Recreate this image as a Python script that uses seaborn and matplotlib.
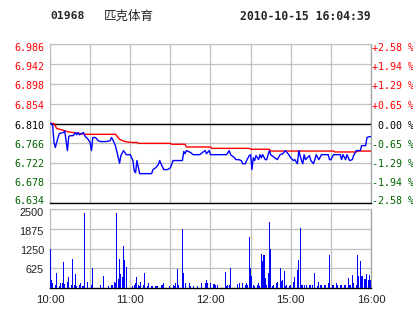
import matplotlib
matplotlib.use('Agg')
import matplotlib.pyplot as plt
import matplotlib.transforms as mtransforms
import seaborn as sns
import pandas as pd

# ---------------- data ----------------
title_code = "01968"
title_name = "匹克体育"
title_time = "2010-10-15 16:04:39"

prev_close = 6.810
price_ticks = [6.634, 6.678, 6.722, 6.766, 6.810, 6.854, 6.898, 6.942, 6.986]
pct_labels = ["-2.58 %", "-1.94 %", "-1.29 %", "-0.65 %", " 0.00 %",
              "+0.65 %", "+1.29 %", "+1.94 %", "+2.58 %"]
vol_ticks = [625, 1250, 1875, 2500]
time_ticks = [0, 30, 60, 90, 120, 150, 180, 210, 240]
time_labels = ["10:00", "", "11:00", "", "12:00", "", "15:00", "", "16:00"]

# minutes since 10:00 (trading minutes, lunch break removed)
price_min = [0, 1, 2, 3, 4, 6, 7, 10, 11, 13, 14, 15, 17, 18, 19, 20, 21, 22, 25, 26,
             27, 28, 30, 31, 32, 34, 36, 38, 42, 45, 46, 47, 49, 50, 51, 52, 53, 55, 57, 60,
             62, 63, 64, 65, 67, 68, 76, 77, 79, 81, 82, 83, 85, 88, 90, 92, 99, 100, 101, 102,
             105, 107, 112, 114, 116, 117, 119, 120, 132, 134, 135, 138, 139, 141, 143, 144, 146, 147, 149, 150,
             151, 152, 153, 154, 156, 157, 158, 159, 161, 162, 164, 165, 168, 170, 172, 174, 176, 178, 180, 182,
             183, 185, 186, 188, 189, 190, 191, 194, 195, 197, 198, 199, 201, 203, 208, 209, 210, 212, 217, 218,
             219, 221, 222, 224, 226, 227, 229, 232, 233, 236, 237, 239, 240]
price_val = [6.810, 6.810, 6.806, 6.768, 6.757, 6.779, 6.788, 6.790, 6.794, 6.750, 6.781, 6.783, 6.783, 6.785, 6.790, 6.785, 6.790, 6.785, 6.790, 6.783,
             6.779, 6.777, 6.768, 6.750, 6.779, 6.779, 6.772, 6.770, 6.770, 6.772, 6.779, 6.774, 6.760, 6.748, 6.735, 6.722, 6.739, 6.750, 6.741, 6.741,
             6.728, 6.705, 6.701, 6.728, 6.699, 6.699, 6.699, 6.708, 6.712, 6.719, 6.728, 6.721, 6.708, 6.708, 6.712, 6.728, 6.728, 6.748, 6.743, 6.750,
             6.746, 6.741, 6.741, 6.746, 6.750, 6.743, 6.750, 6.741, 6.741, 6.750, 6.741, 6.734, 6.730, 6.730, 6.728, 6.721, 6.721, 6.728, 6.739, 6.741,
             6.708, 6.734, 6.728, 6.739, 6.730, 6.741, 6.734, 6.741, 6.730, 6.730, 6.750, 6.741, 6.734, 6.730, 6.741, 6.743, 6.750, 6.743, 6.734, 6.728,
             6.730, 6.721, 6.750, 6.728, 6.721, 6.741, 6.730, 6.739, 6.728, 6.721, 6.730, 6.741, 6.730, 6.741, 6.741, 6.730, 6.730, 6.741, 6.741, 6.730,
             6.741, 6.730, 6.741, 6.728, 6.730, 6.739, 6.750, 6.750, 6.761, 6.761, 6.779, 6.781, 6.781]

avg_min = [0, 3, 5, 10, 13, 17, 22, 27, 49, 52, 56, 61, 65, 66, 90, 91, 101, 102, 120, 121,
           149, 150, 164, 165, 212, 213, 229, 230, 240]
avg_val = [6.810, 6.810, 6.799, 6.795, 6.792, 6.790, 6.788, 6.786, 6.786, 6.775, 6.770, 6.768, 6.768, 6.766, 6.766, 6.764, 6.764, 6.758, 6.758, 6.755,
           6.755, 6.753, 6.753, 6.749, 6.749, 6.747, 6.747, 6.749, 6.749]

vol_min = [0, 1, 2, 4, 5, 7, 8, 9, 10, 11, 13, 14, 16, 17, 18, 19, 20, 22, 23, 24,
           25, 26, 28, 31, 32, 38, 40, 44, 46, 47, 48, 49, 50, 51, 52, 53, 54, 55, 56, 57,
           62, 63, 64, 65, 66, 67, 68, 70, 71, 73, 74, 76, 77, 79, 80, 83, 84, 85, 89, 92,
           93, 94, 95, 96, 99, 100, 101, 104, 105, 107, 110, 113, 116, 117, 118, 120, 122, 123, 124, 125,
           131, 132, 133, 134, 135, 140, 142, 144, 146, 147, 148, 149, 150, 151, 152, 153, 155, 156, 157, 158,
           159, 160, 161, 162, 163, 164, 165, 166, 167, 169, 170, 172, 173, 174, 175, 176, 177, 179, 180, 182,
           183, 185, 186, 187, 188, 189, 190, 192, 194, 195, 196, 198, 200, 201, 202, 203, 205, 206, 208, 209,
           211, 212, 214, 215, 217, 218, 220, 221, 223, 224, 225, 226, 227, 229, 230, 231, 232, 233, 234, 235,
           236, 237, 238, 239, 240]
vol_val = [1240, 250, 170, 95, 485, 63, 150, 150, 820, 130, 200, 340, 95, 915, 95, 440, 63, 95, 150, 63,
           63, 2360, 190, 95, 620, 95, 380, 63, 95, 95, 190, 170, 2370, 300, 910, 440, 360, 1330, 885, 675,
           63, 95, 150, 340, 95, 63, 200, 95, 460, 63, 170, 63, 63, 63, 63, 95, 95, 150, 63, 95,
           63, 170, 600, 95, 1880, 485, 170, 170, 63, 63, 63, 170, 150, 250, 150, 170, 130, 127, 106, 85,
           517, 63, 85, 85, 622, 127, 169, 148, 106, 169, 85, 1624, 633, 380, 85, 63, 85, 169, 63, 1076,
           854, 1044, 316, 85, 485, 2089, 1234, 63, 85, 169, 190, 633, 232, 253, 538, 63, 85, 63, 85, 190,
           338, 570, 886, 1888, 95, 106, 85, 85, 85, 85, 85, 485, 63, 190, 85, 85, 106, 85, 169, 1044,
           106, 85, 169, 85, 85, 85, 106, 85, 306, 106, 85, 411, 169, 106, 1044, 380, 854, 380, 380, 274,
           295, 443, 253, 411, 253]

assert len(price_min) == len(price_val)
assert len(avg_min) == len(avg_val)
assert len(vol_min) == len(vol_val)

price_df = pd.DataFrame({"minute": price_min, "price": price_val})
avg_df = pd.DataFrame({"minute": avg_min, "price": avg_val})
vol_df = pd.DataFrame({"minute": vol_min, "volume": vol_val})

# ---------------- style ----------------
sns.set_style("white")
plt.rcParams['font.family'] = ['DejaVu Sans Mono', 'Noto Sans CJK SC']

RED = "#ff0000"
GREEN = "#006400"
BLUE = "#0000ff"
GRID = "#c0c0c0"
FRAME = "#a0a0a0"

W, H = 414, 314
fig = plt.figure(figsize=(W / 100, H / 100), dpi=100)
fig.patch.set_facecolor("white")


def rect(x0, y0, x1, y1):
    return [x0 / W, 1 - y1 / H, (x1 - x0) / W, (y1 - y0) / H]


def shift_label(lbl, dy_px):
    lbl.set_transform(lbl.get_transform() +
                      mtransforms.ScaledTranslation(0, -dy_px / 100.0, fig.dpi_scale_trans))


axp = fig.add_axes(rect(50, 44, 371, 203))
axv = fig.add_axes(rect(50, 209, 371, 288))

# ---------------- price panel ----------------
sns.lineplot(data=avg_df, x="minute", y="price", ax=axp, color=RED, lw=1.0, zorder=3)
sns.lineplot(data=price_df, x="minute", y="price", ax=axp, color=BLUE, lw=1.0, zorder=4)
axp.set_xlim(0, 240)
axp.set_ylim(price_ticks[0], price_ticks[-1])
axp.set_xticks(time_ticks)
axp.set_yticks(price_ticks)
axp.set_yticklabels([f"{v:.3f}" for v in price_ticks])
axp.tick_params(axis="x", labelbottom=False, length=0)
axp.tick_params(axis="y", length=0, pad=4.3, labelsize=7.2)
axp.grid(True, color=GRID, lw=0.9, zorder=0)
axp.axhline(prev_close, color="black", lw=1.0, zorder=2)
axp.set_xlabel("")
axp.set_ylabel("")
for s in ["left", "top"]:
    axp.spines[s].set_color(GRID)
    axp.spines[s].set_linewidth(0.9)
axp.spines["right"].set_color(FRAME)
axp.spines["right"].set_linewidth(0.9)
axp.spines["bottom"].set_color("black")
axp.spines["bottom"].set_linewidth(1.0)

axr = axp.twinx()
axr.set_ylim(price_ticks[0], price_ticks[-1])
axr.set_yticks(price_ticks)
axr.set_yticklabels(pct_labels)
axr.tick_params(axis="y", length=0, pad=0.7, labelsize=7.2)
axr.grid(False)
for s in axr.spines.values():
    s.set_visible(False)

# per-label offsets (px, downward) as in the reference
label_shift = [-2.5, -1, -0.5, 0.5, 1.5, 1.5, 1.5, 2, 3]
for ax in (axp, axr):
    for lbl, v, d in zip(ax.get_yticklabels(), price_ticks, label_shift):
        lbl.set_color(RED if v > prev_close + 1e-9 else (GREEN if v < prev_close - 1e-9 else "black"))
        shift_label(lbl, d)

# ---------------- volume panel ----------------
axv.bar(vol_df["minute"], vol_df["volume"], width=0.75, color=BLUE, linewidth=0, zorder=3)
axv.set_xlim(0, 240)
axv.set_ylim(0, 2500)
axv.set_yticks(vol_ticks)
axv.set_yticklabels([str(v) for v in vol_ticks], family="Liberation Sans", color="#202020")
axv.set_xticks(time_ticks)
axv.set_xticklabels(time_labels, family="Liberation Sans", color="#202020")
axv.tick_params(axis="y", length=0, pad=4.3, labelsize=7.8)
axv.tick_params(axis="x", length=0, pad=5, labelsize=8.2)
axv.grid(True, color=GRID, lw=0.9, zorder=0)
for s in ["left", "top"]:
    axv.spines[s].set_color(GRID)
    axv.spines[s].set_linewidth(0.9)
axv.spines["right"].set_color(FRAME)
axv.spines["right"].set_linewidth(0.9)
axv.spines["bottom"].set_color("black")
axv.spines["bottom"].set_linewidth(1.0)
vol_shift = [1, 1.5, 2, 3.5]
for lbl, d in zip(axv.get_yticklabels(), vol_shift):
    shift_label(lbl, d)

# ---------------- header ----------------
ty = 1 - 16 / H
fig.text(50 / W, ty, title_code, fontsize=8.2, fontweight="bold",
         family="DejaVu Sans Mono", va="center", ha="left")
fig.text(104 / W, ty, title_name, fontsize=9, family=["Noto Sans CJK SC", "DejaVu Sans"],
         va="center", ha="left")
fig.text(371 / W, ty, title_time, fontsize=8.3, fontweight="bold",
         family="DejaVu Sans Mono", va="center", ha="right")

fig.savefig("out.png", dpi=100, facecolor="white")
